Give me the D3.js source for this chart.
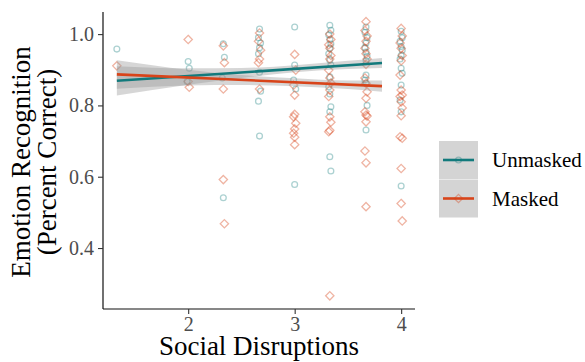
<!DOCTYPE html>
<html>
<head>
<meta charset="utf-8">
<script src="https://cdn.jsdelivr.net/npm/d3@7"></script>
<style>
  body { margin: 0; background: #fff; }
  text { font-family: "Liberation Serif", "Times New Roman", serif; }
</style>
</head>
<body>
<svg width="585" height="362"></svg>
<script>
// Points: [social disruptions (jittered), percent correct]
const unmaskedPoints = [
  [1.33, 0.958],
  [2.00, 0.923], [2.01, 0.904], [1.99, 0.867],
  [2.33, 0.973], [2.34, 0.935], [2.32, 0.877], [2.33, 0.541],
  [2.67, 1.014], [2.66, 0.990], [2.68, 0.975], [2.67, 0.962], [2.66, 0.945],
  [2.67, 0.893], [2.68, 0.840], [2.66, 0.812], [2.67, 0.714],
  [3.00, 1.020], [3.00, 0.913], [2.99, 0.871], [3.01, 0.846], [3.00, 0.578],
  [3.33, 1.025], [3.34, 1.011], [3.32, 0.998], [3.33, 0.985], [3.34, 0.972],
  [3.33, 0.960], [3.32, 0.945], [3.33, 0.927], [3.34, 0.913], [3.33, 0.880],
  [3.32, 0.852], [3.33, 0.832], [3.34, 0.796], [3.33, 0.782], [3.33, 0.656], [3.34, 0.616],
  [3.67, 1.020], [3.66, 1.005], [3.68, 0.990], [3.67, 0.975], [3.66, 0.962],
  [3.67, 0.950], [3.68, 0.938], [3.67, 0.925], [3.67, 0.885], [3.66, 0.871],
  [3.67, 0.862], [3.68, 0.800], [3.67, 0.731],
  [4.00, 1.008], [4.01, 0.990], [3.99, 0.980], [4.00, 0.965], [4.01, 0.955],
  [4.00, 0.940], [3.99, 0.930], [4.00, 0.904], [4.01, 0.890], [4.00, 0.857],
  [3.99, 0.815], [4.00, 0.782], [4.00, 0.574]
];
const maskedPoints = [
  [1.33, 0.911],
  [2.00, 0.985], [2.00, 0.867], [2.01, 0.851],
  [2.33, 0.967], [2.34, 0.920], [2.33, 0.846], [2.33, 0.592], [2.34, 0.468],
  [2.67, 1.003], [2.66, 0.980], [2.68, 0.955], [2.67, 0.930], [2.66, 0.920], [2.67, 0.846],
  [3.00, 0.943], [3.01, 0.899], [2.99, 0.857], [3.00, 0.829], [3.00, 0.775],
  [2.99, 0.768], [3.01, 0.750], [3.00, 0.734], [2.99, 0.722], [3.00, 0.711], [3.00, 0.690],
  [3.33, 1.000], [3.34, 0.985], [3.32, 0.970], [3.33, 0.960], [3.34, 0.940],
  [3.33, 0.930], [3.32, 0.899], [3.33, 0.877], [3.34, 0.863], [3.33, 0.843],
  [3.32, 0.825], [3.33, 0.768], [3.34, 0.753], [3.33, 0.730], [3.32, 0.726], [3.33, 0.266],
  [3.67, 1.035], [3.66, 1.010], [3.68, 0.995], [3.67, 0.980], [3.66, 0.960],
  [3.67, 0.945], [3.68, 0.930], [3.67, 0.915], [3.66, 0.877], [3.67, 0.862],
  [3.68, 0.838], [3.67, 0.820], [3.66, 0.782], [3.67, 0.773], [3.68, 0.770],
  [3.67, 0.754], [3.66, 0.672], [3.67, 0.639], [3.67, 0.516],
  [4.00, 1.016], [4.01, 0.995], [3.99, 0.975], [4.00, 0.960], [4.01, 0.940],
  [4.00, 0.925], [3.99, 0.885], [4.00, 0.843], [4.01, 0.829], [3.99, 0.825],
  [4.00, 0.810], [4.01, 0.793], [4.00, 0.771], [3.99, 0.712], [4.01, 0.708],
  [4.00, 0.623], [4.00, 0.525], [4.01, 0.476]
];

// Fitted lines and their confidence bands
const fitX = [1.33, 3.82];
const unmaskedFit = [0.869, 0.919];
const maskedFit = [0.887, 0.854];
const bandX = [1.33, 2, 2.5, 3, 3.5, 3.82];
const unmaskedLower = [0.828, 0.858, 0.877, 0.893, 0.902, 0.905];
const unmaskedUpper = [0.910, 0.904, 0.905, 0.913, 0.925, 0.933];
const maskedLower = [0.847, 0.856, 0.857, 0.854, 0.846, 0.838];
const maskedUpper = [0.927, 0.900, 0.885, 0.876, 0.870, 0.870];

const xTicks = [2, 3, 4];
const yTicks = [0.4, 0.6, 0.8, 1.0];
const seriesNames = ["Unmasked", "Masked"];

const teal = "#127a7c";
const orange = "#d8441a";

const svg = d3.select("svg");

// Scales
const x = d3.scaleLinear().domain([1.2, 4.13]).range([103, 415]);
const y = d3.scaleLinear().domain([0.229, 1.062]).range([309, 12]);

// Points
const pts = svg.append("g");
pts.selectAll(".circ")
    .data(unmaskedPoints)
  .enter().append("circle")
    .attr("class", "circ")
    .attr("cx", d => x(d[0]))
    .attr("cy", d => y(d[1]))
    .attr("r", 2.9)
    .attr("fill", "none")
    .attr("stroke", teal)
    .attr("stroke-opacity", 0.35)
    .attr("stroke-width", 1.3);

const diamond = d3.symbol().type(d3.symbolDiamond2).size(44);
pts.selectAll(".diam")
    .data(maskedPoints)
  .enter().append("path")
    .attr("class", "diam")
    .attr("d", diamond)
    .attr("transform", d => `translate(${x(d[0])},${y(d[1])})`)
    .attr("fill", "none")
    .attr("stroke", orange)
    .attr("stroke-opacity", 0.4)
    .attr("stroke-width", 1.3);

// Confidence bands
const band = (lo, hi) => d3.area()
    .x((d, i) => x(bandX[i]))
    .y0((d, i) => y(lo[i]))
    .y1((d, i) => y(hi[i]))
    .curve(d3.curveMonotoneX)(bandX);

svg.append("path").attr("d", band(unmaskedLower, unmaskedUpper))
    .attr("fill", "#999").attr("fill-opacity", 0.4);
svg.append("path").attr("d", band(maskedLower, maskedUpper))
    .attr("fill", "#999").attr("fill-opacity", 0.4);

// Fit lines
const fitLine = d3.line().x((d, i) => x(fitX[i])).y(d => y(d));
svg.append("path").attr("d", fitLine(unmaskedFit))
    .attr("fill", "none").attr("stroke", teal).attr("stroke-width", 2.6);
svg.append("path").attr("d", fitLine(maskedFit))
    .attr("fill", "none").attr("stroke", orange).attr("stroke-width", 2.6);

// Axes
const xAxis = svg.append("g")
    .attr("transform", "translate(0,309)")
    .call(d3.axisBottom(x).tickValues(xTicks).tickSize(5).tickPadding(3).tickFormat(d3.format("d")));
const yAxis = svg.append("g")
    .attr("transform", "translate(103,0)")
    .call(d3.axisLeft(y).tickValues(yTicks).tickSize(5).tickPadding(4).tickFormat(d3.format(".1f")));

[xAxis, yAxis].forEach(a => {
    a.select(".domain").attr("stroke", "#111").attr("stroke-width", 1.2);
    a.selectAll(".tick line").attr("stroke", "#333").attr("stroke-width", 1.1);
    a.selectAll("text")
        .attr("fill", "#4d4d4d")
        .style("font-family", "'Liberation Serif', serif")
        .style("font-size", "20px");
});
// axis lines run the full panel
xAxis.select(".domain").attr("d", "M103,0H415");
yAxis.select(".domain").attr("d", "M0,12V309");

// Axis titles
svg.append("text")
    .attr("x", 259).attr("y", 355)
    .attr("text-anchor", "middle")
    .style("font-size", "27px")
    .text("Social Disruptions");

const yTitle = svg.append("g").attr("transform", "translate(0,162) rotate(-90)");
yTitle.append("text").attr("x", 0).attr("y", 30)
    .attr("text-anchor", "middle").style("font-size", "27px")
    .text("Emotion Recognition");
yTitle.append("text").attr("x", 0).attr("y", 56)
    .attr("text-anchor", "middle").style("font-size", "27px")
    .text("(Percent Correct)");

// Legend
const legend = svg.append("g").attr("transform", "translate(439,141)");
const legendColors = [teal, orange];
seriesNames.forEach((name, i) => {
    const g = legend.append("g").attr("transform", `translate(0,${i * 38.5})`);
    g.append("rect").attr("width", 39).attr("height", 38)
        .attr("fill", "#d4d4d4");
    g.append("line").attr("x1", 4).attr("x2", 35).attr("y1", 19).attr("y2", 19)
        .attr("stroke", legendColors[i]).attr("stroke-width", 2.6);
    if (i === 0) {
        g.append("circle").attr("cx", 19.5).attr("cy", 19).attr("r", 2.9)
            .attr("fill", "none").attr("stroke", teal)
            .attr("stroke-opacity", 0.35).attr("stroke-width", 1.3);
    } else {
        g.append("path").attr("d", diamond)
            .attr("transform", "translate(19.5,19)")
            .attr("fill", "none").attr("stroke", orange)
            .attr("stroke-opacity", 0.4).attr("stroke-width", 1.3);
    }
    g.append("text").attr("x", 53).attr("y", 19)
        .attr("dy", "0.35em")
        .style("font-size", "21px")
        .text(name);
});
</script>
</body>
</html>
